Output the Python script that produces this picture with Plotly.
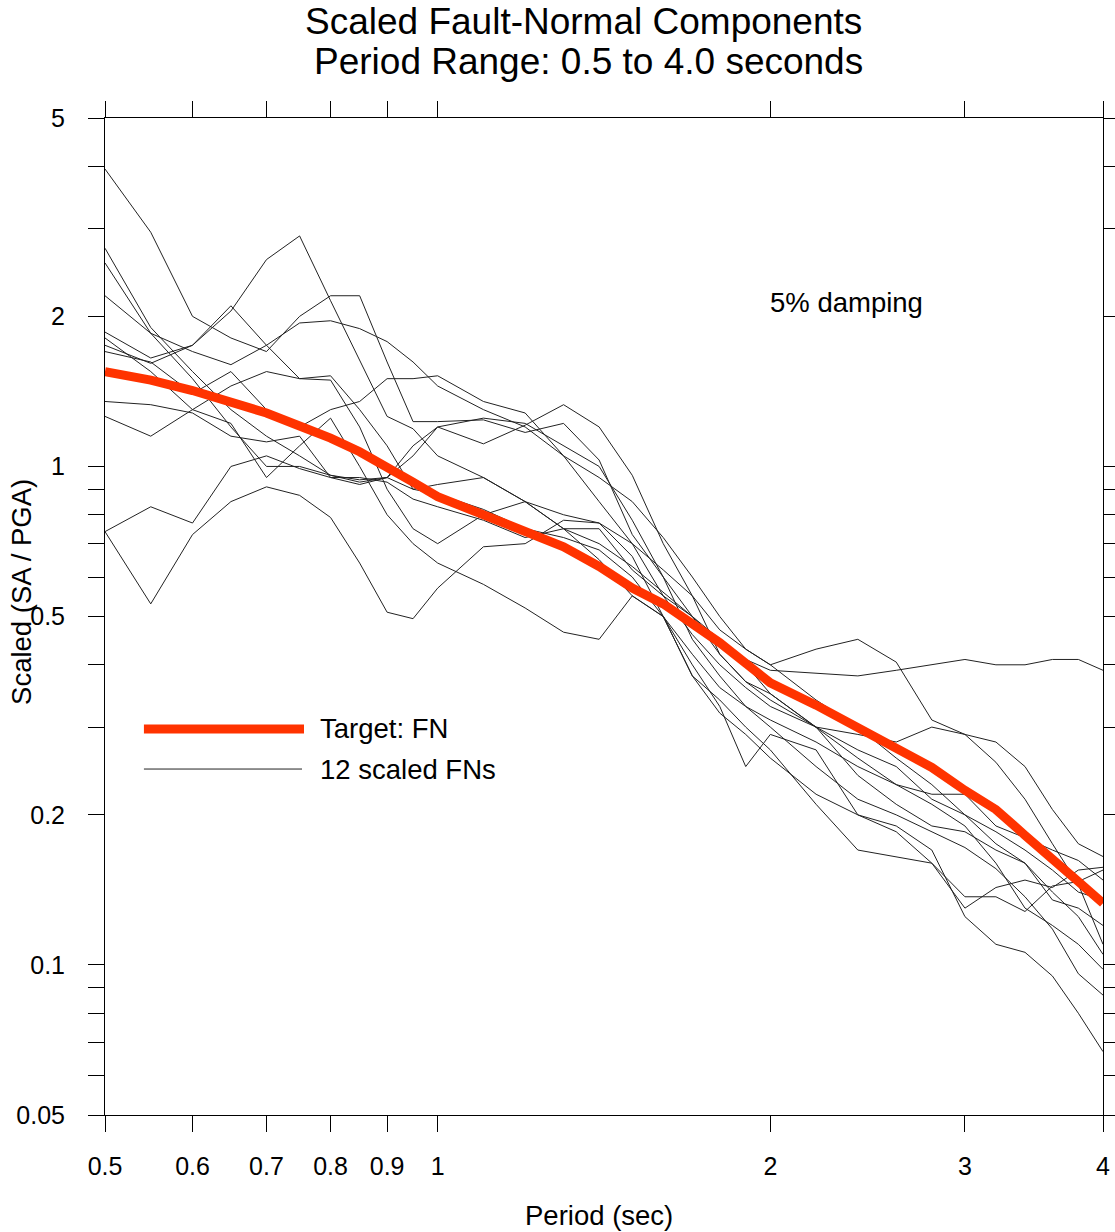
import plotly.graph_objects as go

# Spectral periods (sec)
periods = [0.5, 0.55, 0.6, 0.65, 0.7, 0.75, 0.8, 0.85, 0.9, 0.95, 1.0,
           1.1, 1.2, 1.3, 1.4, 1.5, 1.6, 1.7, 1.8, 1.9, 2.0,
           2.2, 2.4, 2.6, 2.8, 3.0, 3.2, 3.4, 3.6, 3.8, 4.0]

# Target fault-normal spectrum (SA / PGA)
target_fn = [1.55, 1.49, 1.42, 1.35, 1.28, 1.205, 1.14, 1.07, 1.00, 0.93, 0.87,
             0.80, 0.74, 0.69, 0.63, 0.57, 0.53, 0.485, 0.443, 0.403, 0.368,
             0.332, 0.30, 0.272, 0.249, 0.224, 0.205, 0.182, 0.164, 0.147, 0.133]

# Twelve scaled fault-normal records
fn_01 = [3.95, 2.95, 2.0, 1.81, 1.70, 2.0, 2.2, 2.2, 1.62, 1.23, 1.23,
         1.24, 1.17, 1.22, 1.03, 0.73, 0.60, 0.50, 0.44, 0.41, 0.39,
         0.385, 0.38, 0.39, 0.40, 0.41, 0.40, 0.40, 0.41, 0.41, 0.39]
fn_02 = [1.75, 1.61, 1.75, 2.05, 2.6, 2.9, 2.15, 1.63, 1.26, 1.19, 1.05,
         0.95, 0.85, 0.75, 0.70, 0.63, 0.56, 0.50, 0.42, 0.37, 0.34,
         0.30, 0.27, 0.25, 0.215, 0.20, 0.175, 0.16, 0.14, 0.125, 0.105]
fn_03 = [2.2, 1.85, 1.7, 1.6, 1.75, 1.94, 1.96, 1.89, 1.78, 1.62, 1.45,
         1.30, 1.2, 1.05, 0.95, 0.85, 0.72, 0.6, 0.5, 0.43, 0.40,
         0.43, 0.45, 0.405, 0.31, 0.29, 0.28, 0.25, 0.205, 0.175, 0.165]
fn_04 = [2.74, 1.9, 1.55, 1.3, 1.15, 1.05, 0.96, 0.94, 0.95, 0.90, 0.88,
         0.82, 0.75, 0.72, 0.68, 0.6, 0.5, 0.42, 0.36, 0.33, 0.31,
         0.28, 0.25, 0.23, 0.22, 0.22, 0.19, 0.18, 0.17, 0.162, 0.148]
fn_05 = [2.56, 1.85, 1.5, 1.2, 1.0, 1.0, 0.96, 0.93, 0.95, 1.05, 1.2,
         1.25, 1.22, 1.1, 1.0, 0.78, 0.6, 0.45, 0.38, 0.33, 0.30,
         0.25, 0.215, 0.2, 0.185, 0.172, 0.156, 0.137, 0.118, 0.096, 0.087]
fn_06 = [1.86, 1.65, 1.75, 2.1, 1.75, 1.5, 1.52, 1.3, 1.1, 0.9, 0.92,
         0.95, 0.85, 0.8, 0.77, 0.7, 0.62, 0.55, 0.47, 0.43, 0.40,
         0.34, 0.3, 0.26, 0.23, 0.20, 0.185, 0.17, 0.155, 0.14, 0.135]
fn_07 = [1.81, 1.55, 1.3, 1.45, 1.55, 1.5, 1.49, 1.2, 0.9, 0.75, 0.7,
         0.8, 0.85, 0.75, 0.65, 0.55, 0.5, 0.4, 0.33, 0.25, 0.29,
         0.27, 0.2, 0.19, 0.17, 0.125, 0.11, 0.106, 0.095, 0.08, 0.067]
fn_08 = [1.70, 1.62, 1.4, 1.55, 1.3, 1.2, 1.3, 1.35, 1.5, 1.5, 1.52,
         1.35, 1.28, 1.05, 0.85, 0.7, 0.55, 0.5, 0.45, 0.4, 0.35,
         0.3, 0.24, 0.21, 0.19, 0.185, 0.17, 0.16, 0.135, 0.13, 0.12]
fn_09 = [1.35, 1.33, 1.28, 1.15, 1.12, 1.15, 0.95, 0.95, 0.93, 0.86, 0.83,
         0.78, 0.72, 0.75, 0.75, 0.62, 0.55, 0.46, 0.4, 0.36, 0.33,
         0.3, 0.29, 0.28, 0.30, 0.29, 0.255, 0.215, 0.175, 0.145, 0.11]
fn_10 = [1.26, 1.15, 1.3, 1.22, 0.95, 1.1, 1.25, 1.0, 0.8, 0.7, 0.64,
         0.58, 0.52, 0.465, 0.45, 0.55, 0.5, 0.38, 0.34, 0.3, 0.27,
         0.21, 0.17, 0.165, 0.16, 0.137, 0.137, 0.128, 0.144, 0.147, 0.155]
fn_11 = [0.74, 0.53, 0.73, 0.85, 0.91, 0.875, 0.79, 0.64, 0.51, 0.495, 0.57,
         0.69, 0.70, 0.78, 0.77, 0.66, 0.5, 0.38, 0.32, 0.29, 0.26,
         0.22, 0.2, 0.185, 0.16, 0.13, 0.143, 0.148, 0.143, 0.155, 0.157]
fn_12 = [0.74, 0.83, 0.77, 1.0, 1.05, 0.99, 0.95, 0.92, 0.95, 1.1, 1.2,
         1.11, 1.21, 1.33, 1.2, 0.96, 0.7, 0.55, 0.42, 0.37, 0.35,
         0.3, 0.26, 0.23, 0.21, 0.19, 0.16, 0.13, 0.12, 0.11, 0.098]

scaled_fns = [fn_01, fn_02, fn_03, fn_04, fn_05, fn_06,
              fn_07, fn_08, fn_09, fn_10, fn_11, fn_12]

# Axis ticks
x_tickvals = [0.5, 0.6, 0.7, 0.8, 0.9, 1, 2, 3, 4]
x_ticktext = ["0.5", "0.6", "0.7", "0.8", "0.9", "1", "2", "3", "4"]
y_tickvals = [0.05, 0.06, 0.07, 0.08, 0.09, 0.1, 0.2, 0.3, 0.4, 0.5,
              0.6, 0.7, 0.8, 0.9, 1, 2, 3, 4, 5]
y_labelled = {0.05: "0.05", 0.1: "0.1", 0.2: "0.2", 0.5: "0.5",
              1: "1", 2: "2", 5: "5"}
y_ticktext = [y_labelled.get(v, "") for v in y_tickvals]

FONT = "Liberation Sans, Arial, sans-serif"
RED = "#ff3300"
INK = "#222222"

fig = go.Figure()
for series in scaled_fns:
    fig.add_trace(go.Scatter(x=periods, y=series, mode="lines",
                             line=dict(color=INK, width=1),
                             showlegend=False, hoverinfo="skip"))
fig.add_trace(go.Scatter(x=periods, y=target_fn, mode="lines",
                         line=dict(color=RED, width=9),
                         showlegend=False, hoverinfo="skip"))

axis_common = dict(type="log", showgrid=False, zeroline=False,
                   showline=True, linecolor="black", linewidth=1,
                   mirror="ticks", ticks="outside", ticklen=16,
                   tickcolor="black", tickwidth=1, automargin=False,
                   tickfont=dict(family=FONT, size=25, color="black"))

fig.update_xaxes(range=[-0.30103, 0.60206], tickmode="array",
                 tickvals=x_tickvals, ticktext=x_ticktext,
                 ticklabelstandoff=13, **axis_common)
fig.update_yaxes(range=[-1.30103, 0.69897], tickmode="array",
                 tickvals=y_tickvals, ticktext=y_ticktext,
                 ticklabelstandoff=18, **axis_common)

# Legend samples
fig.add_shape(type="line", xref="paper", yref="paper",
              x0=0.039, x1=0.1994, y0=0.3872, y1=0.3872,
              line=dict(color=RED, width=9))
fig.add_shape(type="line", xref="paper", yref="paper",
              x0=0.039, x1=0.1974, y0=0.347, y1=0.347,
              line=dict(color=INK, width=1))

texts = [
    dict(text="Target: FN", x=0.2134, y=0.3872, xanchor="left", size=27.5),
    dict(text="12 scaled FNs", x=0.2134, y=0.347, xanchor="left", size=27.5),
    dict(text="5% damping", x=0.7425, y=0.8154, xanchor="center", size=27.5),
    dict(text="Scaled Fault-Normal Components", x=0.479, y=1.0963,
         xanchor="center", size=37),
    dict(text="Period Range: 0.5 to 4.0 seconds", x=0.484, y=1.0562,
         xanchor="center", size=37),
    dict(text="Period (sec)", x=0.495, y=-0.1013, xanchor="center", size=27.5),
]
for t in texts:
    fig.add_annotation(text=t["text"], x=t["x"], y=t["y"], xref="paper",
                       yref="paper", xanchor=t["xanchor"], yanchor="middle",
                       showarrow=False,
                       font=dict(family=FONT, size=t["size"], color="black"))
fig.add_annotation(text="Scaled (SA / PGA)", x=-0.0832, y=0.5246,
                   xref="paper", yref="paper", textangle=-90,
                   xanchor="center", yanchor="middle", showarrow=False,
                   font=dict(family=FONT, size=27.5, color="black"))

fig.update_layout(width=1115, height=1232,
                  margin=dict(l=105, r=12, t=118, b=117),
                  paper_bgcolor="white", plot_bgcolor="white",
                  showlegend=False)

fig.write_html("out.html")
